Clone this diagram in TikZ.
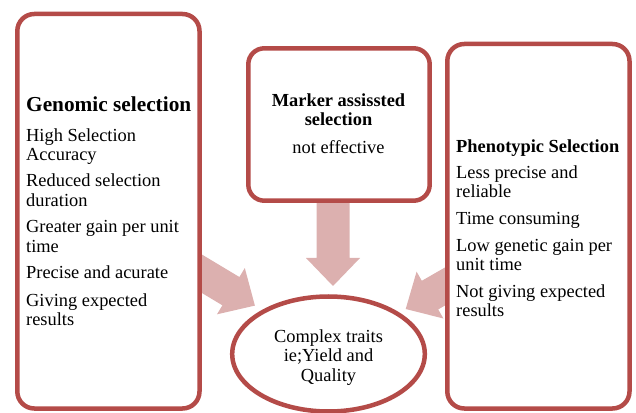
\documentclass[tikz,border=0pt]{standalone}
\usepackage{fontspec}
\setmainfont{Liberation Serif}
\usetikzlibrary{shapes.geometric}
\definecolor{boxred}{RGB}{180,75,72}
\definecolor{arrowpink}{RGB}{220,176,175}
\tikzset{
  panel/.style={draw=boxred, line width=4.5pt, fill=white, rounded corners=17pt, inner sep=0pt},
  oval/.style={ellipse, draw=boxred, line width=4.5pt, fill=white, inner sep=0pt},
  body/.style={font=\fontsize{18.4}{20}\selectfont, inner sep=0pt},
  headtxt/.style={font=\fontsize{18.4}{20}\selectfont\bfseries, inner sep=0pt},
  bighead/.style={font=\fontsize{21.3}{24}\selectfont\bfseries, inner sep=0pt},
}
\newcommand{\fatarrowat}[3]{%
  \begin{scope}[shift={#1}, rotate=#2]
    \fill[arrowpink] (0,0) -- (-28,27) -- (-28,16.5) -- (-#3,16.5) -- (-#3,-16.5) -- (-28,-16.5) -- (-28,-27) -- cycle;
  \end{scope}}
\begin{document}
\begin{tikzpicture}[x=1pt,y=1pt]
\useasboundingbox (0,0) rectangle (636,412);
% arrow tips
\coordinate (tipL) at (254.9,106.4);
\coordinate (tipM) at (333,126);
\coordinate (tipR) at (405.7,103);
\fatarrowat{(tipL)}{-31}{80}
\fatarrowat{(tipM)}{-90}{86}
\fatarrowat{(tipR)}{-150.2}{75}
% boxes
\node[panel, minimum width=182.2pt, minimum height=394.5pt] (gs) at (108.4,200.75) {};
\node[panel, minimum width=181.4pt, minimum height=152.4pt, rounded corners=16pt] (mas) at (339,287.5) {};
\node[panel, minimum width=182.2pt, minimum height=364.5pt] (ps) at (538.4,185.75) {};
\node[oval, minimum width=192.6pt, minimum height=115pt] (ct) at (328.5,58) {};
% left texts
\node[bighead, anchor=base west] (gsh) at (26,300) {Genomic selection};
\foreach \t/\yy [count=\i] in {High Selection/270, Accuracy/251, Reduced selection/225, duration/205, Greater gain per unit/179, time/159, Precise and acurate/133, Giving expected/106, results/86}
  \node[body, anchor=base west] (gsl\i) at (26,\yy) {\t};
% middle texts
\node[headtxt, anchor=base] (mash1) at (338.5,305) {Marker assissted};
\node[headtxt, anchor=base] (mash2) at (338.5,286) {selection};
\node[body, anchor=base] (masl) at (338.5,258) {not effective};
% right texts
\node[headtxt, anchor=base west] (psh) at (456,259.3) {Phenotypic Selection};
\foreach \t/\yy [count=\i] in {Less precise and/233, reliable/214.3, Time consuming/187, Low genetic gain per/160.3, unit time/141.3, Not giving expected/114, results/95.3}
  \node[body, anchor=base west] (psl\i) at (456,\yy) {\t};
% ellipse texts
\node[body, anchor=base] (ct1) at (328.5,70) {Complex traits};
\node[body, anchor=base] (ct2) at (328.5,51) {ie;Yield and};
\node[body, anchor=base] (ct3) at (328.5,31) {Quality};
\end{tikzpicture}
\end{document}
